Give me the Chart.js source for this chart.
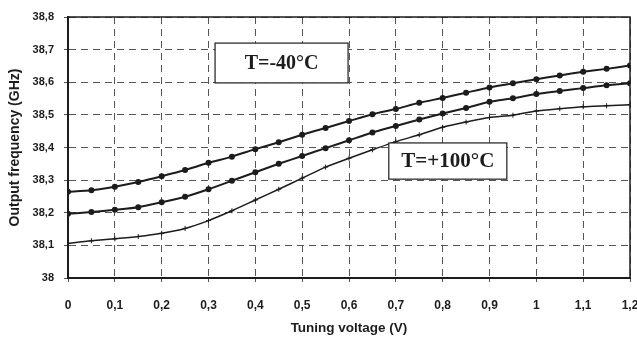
<!DOCTYPE html>
<html>
<head>
<meta charset="utf-8">
<script src="https://cdn.jsdelivr.net/npm/chart.js@4/dist/chart.umd.min.js"></script>
<style>
  html, body { margin: 0; padding: 0; background: #fff; }
  #wrap { width: 637px; height: 340px; }
</style>
</head>
<body>
<div id="wrap"><canvas id="freqChart" width="637" height="340"></canvas></div>
<script>
// tuning voltage (V)
var voltage = [0, 0.05, 0.1, 0.15, 0.2, 0.25, 0.3, 0.35, 0.4, 0.45, 0.5, 0.55, 0.6,
               0.65, 0.7, 0.75, 0.8, 0.85, 0.9, 0.95, 1.0, 1.05, 1.1, 1.15, 1.2];

// output frequency (GHz)
var freqMinus40 = [38.264, 38.269, 38.280, 38.294, 38.312, 38.331, 38.353, 38.372, 38.395,
                   38.416, 38.439, 38.460, 38.481, 38.502, 38.518, 38.537, 38.552, 38.568,
                   38.584, 38.597, 38.609, 38.621, 38.632, 38.641, 38.651];
var freqMiddle = [38.197, 38.202, 38.209, 38.217, 38.232, 38.249, 38.272, 38.298, 38.324,
                  38.350, 38.374, 38.398, 38.422, 38.446, 38.466, 38.486, 38.504, 38.521,
                  38.540, 38.551, 38.564, 38.573, 38.582, 38.591, 38.597];
var freqPlus100 = [38.106, 38.114, 38.120, 38.127, 38.137, 38.152, 38.176, 38.206, 38.239,
                   38.272, 38.306, 38.340, 38.367, 38.393, 38.418, 38.439, 38.462, 38.478,
                   38.492, 38.499, 38.512, 38.519, 38.525, 38.528, 38.531];

var labelTexts = ["T=-40°C", "T=+100°C"];

function toPoints(values) {
    return voltage.map(function (v, i) { return { x: v, y: values[i] }; });
}

function commaLabel(v) {
    return String(Number(v.toFixed(1))).replace(".", ",");
}

var ink = "#1c1c1c";
var sans = "'Liberation Sans', Arial, sans-serif";

var frameAndNotes = {
    id: "frameAndNotes",
    beforeDraw: function (chart) {
        var ctx = chart.ctx;
        ctx.save();
        ctx.fillStyle = "#ffffff";
        ctx.fillRect(0, 0, chart.width, chart.height);
        ctx.restore();
    },
    afterDraw: function (chart) {
        var ctx = chart.ctx;
        var a = chart.chartArea;
        var xs = chart.scales.x;
        var ys = chart.scales.y;

        ctx.save();
        ctx.strokeStyle = ink;
        ctx.lineWidth = 1.5;
        ctx.beginPath();
        ctx.moveTo(a.left, a.top);
        ctx.lineTo(a.right, a.top);
        ctx.lineTo(a.right, a.bottom);
        ctx.stroke();

        // text boxes
        var boxes = [
            { text: labelTexts[0], x0: 0.314, x1: 0.598, y0: 38.72, y1: 38.598, size: 20 },
            { text: labelTexts[1], x0: 0.685, x1: 0.937, y0: 38.414, y1: 38.303, size: 21 }
        ];
        boxes.forEach(function (b) {
            var l = xs.getPixelForValue(b.x0), r = xs.getPixelForValue(b.x1);
            var t = ys.getPixelForValue(b.y0), btm = ys.getPixelForValue(b.y1);
            ctx.fillStyle = "#ffffff";
            ctx.fillRect(l, t, r - l, btm - t);
            ctx.lineWidth = 1.2;
            ctx.strokeStyle = ink;
            ctx.strokeRect(l, t, r - l, btm - t);
            ctx.fillStyle = ink;
            ctx.font = "bold " + b.size + "px 'Liberation Serif', 'Times New Roman', serif";
            ctx.textAlign = "center";
            ctx.textBaseline = "middle";
            ctx.fillText(b.text, (l + r) / 2, (t + btm) / 2 + 1);
        });
        ctx.restore();
    }
};

new Chart(document.getElementById("freqChart"), {
    type: "line",
    data: {
        datasets: [
            {
                label: labelTexts[0],
                data: toPoints(freqMinus40),
                borderColor: ink,
                backgroundColor: ink,
                borderWidth: 2,
                pointRadius: 2,
                pointStyle: "circle",
                tension: 0.2
            },
            {
                label: "T=+25°C",
                data: toPoints(freqMiddle),
                borderColor: ink,
                backgroundColor: ink,
                borderWidth: 2,
                pointRadius: 2,
                pointStyle: "circle",
                tension: 0.2
            },
            {
                label: labelTexts[1],
                data: toPoints(freqPlus100),
                borderColor: ink,
                backgroundColor: ink,
                borderWidth: 1.5,
                pointRadius: 2.5,
                pointBorderWidth: 1,
                pointStyle: "cross",
                tension: 0.2
            }
        ]
    },
    options: {
        responsive: false,
        animation: false,
        layout: { padding: { top: 17, right: 7, left: 0, bottom: 0 } },
        plugins: {
            legend: { display: false },
            tooltip: { enabled: false }
        },
        scales: {
            x: {
                type: "linear",
                min: 0,
                max: 1.2,
                ticks: {
                    stepSize: 0.1,
                    color: ink,
                    font: { family: sans, size: 12, weight: "bold" },
                    padding: 16,
                    maxRotation: 0,
                    callback: commaLabel
                },
                grid: { color: "#555", lineWidth: 1, tickLength: 4 },
                border: { color: ink, width: 2, dash: [7, 5] },
                title: {
                    display: true,
                    text: "Tuning voltage (V)",
                    color: ink,
                    font: { family: sans, size: 13.5, weight: "bold" },
                    padding: { top: 1 }
                },
                afterFit: function (s) {
                    s.height = 62;
                    s.paddingLeft = 0;
                    s.paddingRight = 0;
                }
            },
            y: {
                min: 38,
                max: 38.8,
                ticks: {
                    stepSize: 0.1,
                    color: ink,
                    font: { family: sans, size: 11, weight: "bold" },
                    padding: 10,
                    callback: commaLabel
                },
                grid: { color: "#555", lineWidth: 1, tickLength: 4 },
                border: { color: ink, width: 2, dash: [7, 5] },
                title: {
                    display: true,
                    text: "Output frequency (GHz)",
                    color: ink,
                    font: { family: sans, size: 14, weight: "bold" },
                    padding: { top: 7, bottom: 0 }
                },
                afterFit: function (s) { s.width = 68; }
            }
        }
    },
    plugins: [frameAndNotes]
});
</script>
</body>
</html>
